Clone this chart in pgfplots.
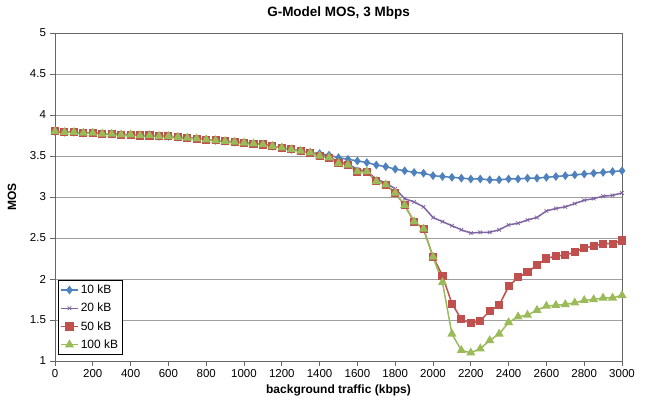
\documentclass[border=0pt]{standalone}
\usepackage{fontspec}
\setmainfont{Liberation Sans}
\usepackage{pgfplots}
\pgfplotsset{compat=1.18}
\usepackage{pgfplotstable}
\definecolor{xlBlue}{HTML}{4F81BD}
\definecolor{xlPurple}{HTML}{8064A2}
\definecolor{xlRed}{HTML}{C0504D}
\definecolor{xlGreen}{HTML}{9BBB59}

% MOS vs background traffic, one column per file size
\pgfplotstableread{
x    a     b     c     d
0    3.80  3.80  3.80  3.80
50   3.79  3.79  3.79  3.79
100  3.79  3.79  3.79  3.79
150  3.78  3.78  3.78  3.78
200  3.78  3.78  3.78  3.78
250  3.77  3.77  3.77  3.77
300  3.77  3.77  3.77  3.77
350  3.76  3.76  3.76  3.76
400  3.76  3.76  3.76  3.76
450  3.75  3.75  3.75  3.75
500  3.75  3.75  3.75  3.75
550  3.74  3.74  3.74  3.74
600  3.74  3.74  3.74  3.74
650  3.73  3.73  3.73  3.73
700  3.72  3.72  3.72  3.72
750  3.71  3.71  3.71  3.71
800  3.70  3.70  3.70  3.70
850  3.69  3.69  3.69  3.69
900  3.68  3.68  3.68  3.68
950  3.67  3.67  3.67  3.67
1000 3.66  3.66  3.66  3.66
1050 3.65  3.65  3.65  3.65
1100 3.64  3.64  3.64  3.64
1150 3.62  3.62  3.62  3.62
1200 3.60  3.60  3.60  3.60
1250 3.58  3.58  3.58  3.58
1300 3.56  3.56  3.56  3.56
1350 3.54  3.54  3.54  3.54
1400 3.53  3.51  3.50  3.50
1450 3.51  3.49  3.48  3.48
1500 3.48  3.43  3.41  3.41
1550 3.46  3.40  3.39  3.39
1600 3.44  3.34  3.31  3.31
1650 3.42  3.31  3.31  3.31
1700 3.39  3.22  3.19  3.19
1750 3.37  3.17  3.15  3.15
1800 3.34  3.10  3.05  3.05
1850 3.32  2.98  2.90  2.90
1900 3.30  2.94  2.70  2.70
1950 3.29  2.88  2.61  2.61
2000 3.26  2.75  2.27  2.27
2050 3.25  2.70  2.04  1.96
2100 3.24  2.65  1.70  1.33
2150 3.23  2.60  1.51  1.13
2200 3.22  2.56  1.46  1.10
2250 3.22  2.57  1.49  1.15
2300 3.21  2.57  1.61  1.25
2350 3.21  2.60  1.68  1.33
2400 3.22  2.66  1.91  1.47
2450 3.22  2.68  2.02  1.54
2500 3.23  2.72  2.08  1.56
2550 3.23  2.75  2.17  1.62
2600 3.24  2.83  2.25  1.67
2650 3.25  2.86  2.28  1.68
2700 3.26  2.88  2.29  1.69
2750 3.27  2.92  2.33  1.71
2800 3.28  2.96  2.38  1.74
2850 3.29  2.98  2.40  1.75
2900 3.30  3.01  2.43  1.77
2950 3.31  3.02  2.43  1.77
3000 3.32  3.05  2.47  1.80
}\mostable

\begin{document}
\begin{tikzpicture}
\begin{axis}[
    scale only axis,
    width=567pt, height=328pt,
    xmin=0, xmax=3000, ymin=1, ymax=5,
    xtick distance=200,
    ytick={1,1.5,...,5},
    ymajorgrids,
    grid style={gray!75, line width=0.8pt},
    axis line style={black!60, line width=0.9pt},
    tick pos=left, tick align=outside,
    major tick length=4.5pt,
    tick style={black!60, line width=0.7pt},
    /pgf/number format/assume math mode=true,
    /pgf/number format/1000 sep={},
    yticklabel style={/pgf/number format/fixed, xshift=-1pt},
    ticklabel style={font=\fontsize{11.5}{13}\selectfont},
    title={G-Model MOS, 3 Mbps},
    title style={at={(axis description cs:0.5,1.064)}, anchor=center, yshift=-7pt, font=\bfseries\fontsize{13.5}{15}\selectfont},
    xlabel={background traffic (kbps)},
    xlabel style={at={(axis description cs:0.5,-0.088)}, anchor=center, yshift=-1pt, font=\bfseries\fontsize{12}{14}\selectfont},
    ylabel={MOS},
    ylabel style={at={(axis description cs:-0.076,0.5)}, anchor=center, font=\bfseries\fontsize{12}{14}\selectfont},
    legend style={at={(axis description cs:0.005,0.018)}, anchor=south west,
        draw=black, line width=0.7pt, font=\fontsize{12}{13}\selectfont,
        row sep=4pt, inner sep=2pt, inner ysep=3pt},
    legend cell align=left,
    every axis plot/.append style={line width=1.5pt},
]
\addplot[xlBlue, mark=diamond*, mark size=3.2pt] table[x=x, y=a] {\mostable};
\addlegendentry{10 kB}
\addplot[xlPurple, mark=x, mark size=2.6pt, mark options={line width=0.7pt}] table[x=x, y=b] {\mostable};
\addlegendentry{20 kB}
\addplot[xlRed, mark=square*, mark size=3.3pt] table[x=x, y=c] {\mostable};
\addlegendentry{50 kB}
\addplot[xlGreen, mark=triangle*, mark size=3.8pt] table[x=x, y=d] {\mostable};
\addlegendentry{100 kB}
\end{axis}
\pgfresetboundingbox
\path (-55pt,-39pt) rectangle (592pt,361pt);
\end{tikzpicture}
\end{document}
